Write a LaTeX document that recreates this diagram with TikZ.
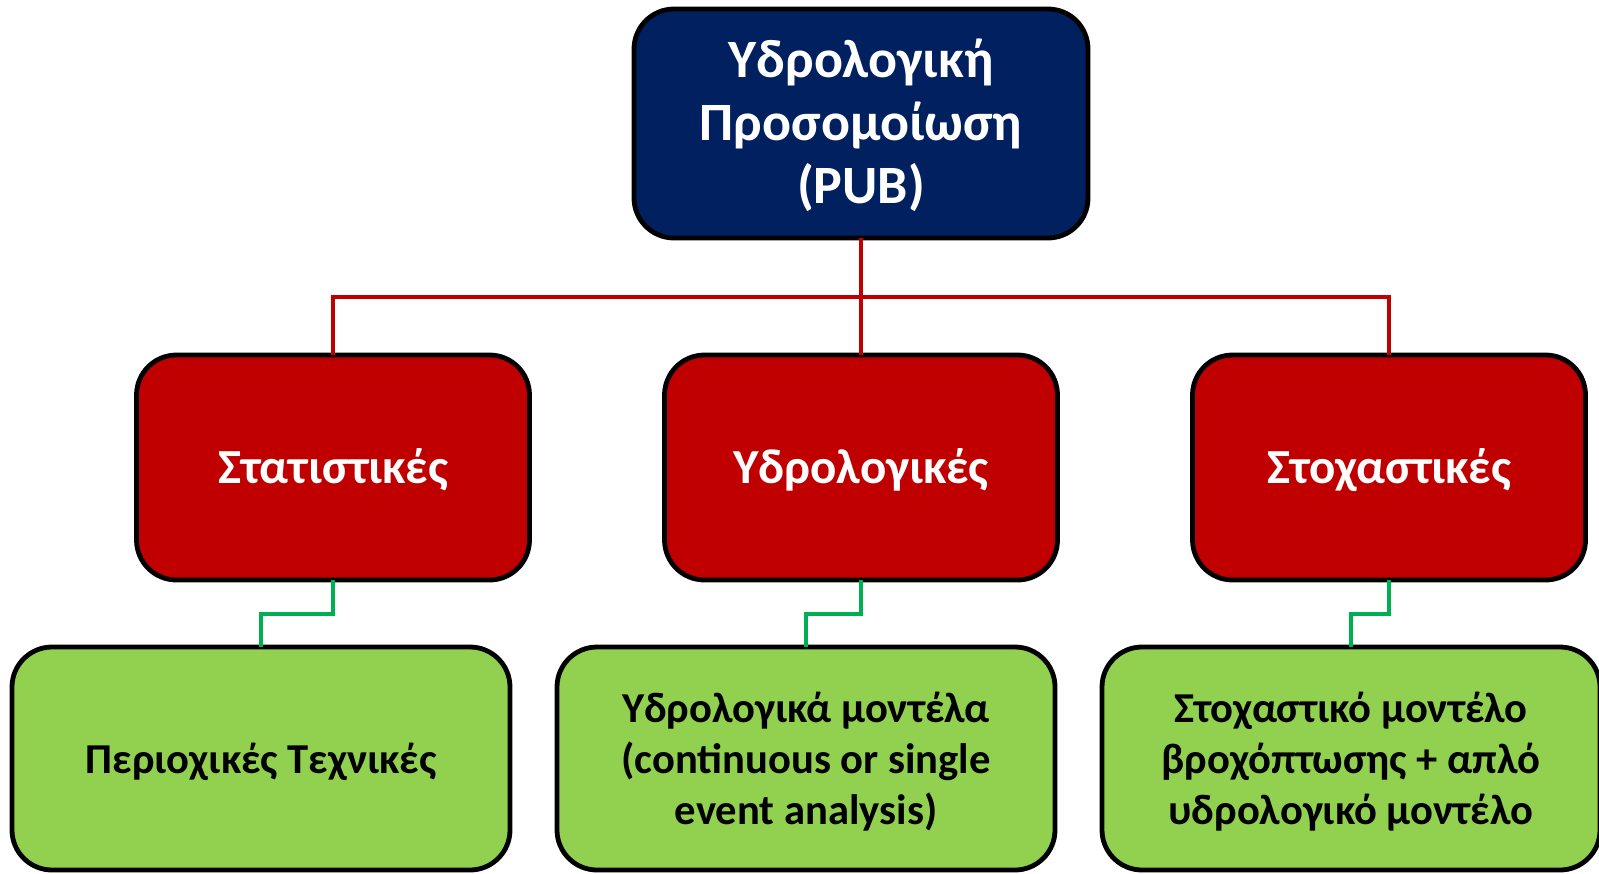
\documentclass[tikz,border=0pt]{standalone}
\usepackage{fontspec}
\setmainfont{Carlito}
\usepackage{tikz}
\usetikzlibrary{positioning,calc}
\definecolor{PubNavy}{HTML}{002060}
\definecolor{ClassRed}{HTML}{C00000}
\definecolor{MethodGreen}{HTML}{92D050}
\definecolor{LinkGreen}{HTML}{00B050}

\begin{document}
\begin{tikzpicture}[
	node distance=58.5pt and 67.5pt,
	box/.style={draw=black, line width=2.4pt, rounded corners=20pt, align=center, outer sep=0pt, inner sep=4pt},
	topbox/.style={box, fill=PubNavy, text=white, minimum width=227pt, minimum height=114.5pt, text depth=2pt, font=\fontsize{27}{31.5}\selectfont\bfseries},
	classbox/.style={box, fill=ClassRed, text=white, minimum width=196.5pt, minimum height=112.5pt, text depth=1.5pt, font=\fontsize{24.5}{30}\selectfont\bfseries},
	methodbox/.style={box, fill=MethodGreen, text=black, minimum width=249pt, minimum height=111.5pt, text depth=0pt, font=\fontsize{21.3}{25.5}\selectfont\bfseries},
	busline/.style={ClassRed, line width=2pt},
	linkline/.style={LinkGreen, line width=2pt}
]
\useasboundingbox (0,0) rectangle (799.5pt,-436.5pt);

\node[topbox] (pub) at (430.5pt,-61.75pt) {Υδρολογική\\Προσομοίωση\\(PUB)};

\node[classbox, below=of pub] (hydro) {Υδρολογικές};
\node[classbox, left=of hydro] (stat) {Στατιστικές};
\node[classbox, right=of hydro] (stoch) {Στοχαστικές};

\node[methodbox, below=33.5pt of hydro, xshift=-27.5pt] (models) {Υδρολογικά μοντέλα\\(continuous or single\\event analysis)};
\node[methodbox, left=23.5pt of models] (regional) {Περιοχικές Τεχνικές};
\node[methodbox, right=23.5pt of models] (rainfall) {Στοχαστικό μοντέλο\\βροχόπτωσης + απλό\\υδρολογικό μοντέλο};

% red bus from the top box
\coordinate (bus) at ($(pub.south)!0.5!(hydro.north)$);
\draw[busline] (stat.north) |- (bus) -| (stoch.north);
\draw[busline] (pub.south) -- (hydro.north);

% green steps to the methods
\draw[linkline] (stat.south) |- ($(stat.south)!0.5!(regional.north)$) -| (regional.north);
\draw[linkline] (hydro.south) |- ($(hydro.south)!0.5!(models.north)$) -| (models.north);
\draw[linkline] (stoch.south) |- ($(stoch.south)!0.5!(rainfall.north)$) -| (rainfall.north);
\end{tikzpicture}
\end{document}
